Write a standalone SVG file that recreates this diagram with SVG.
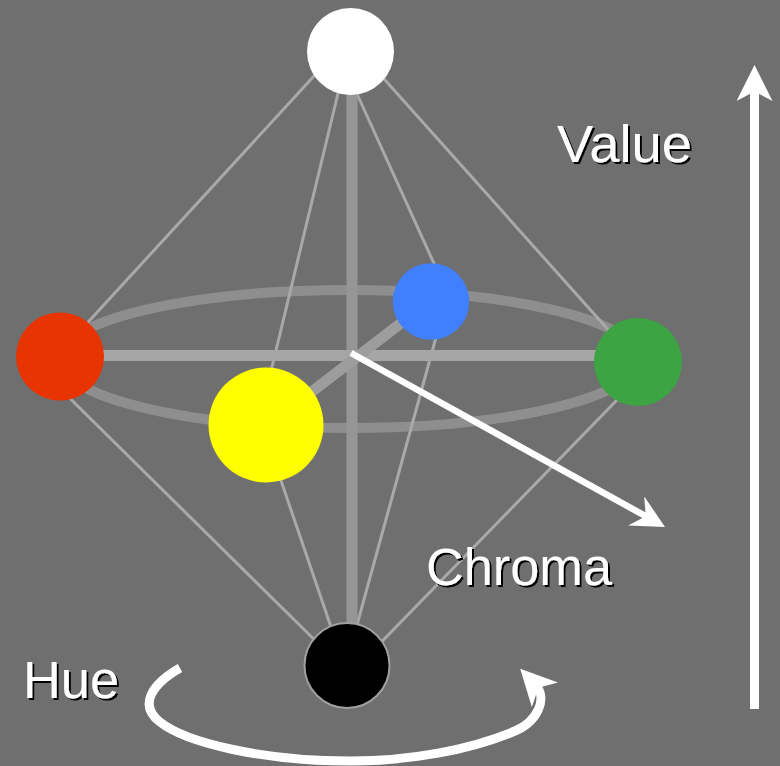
<svg xmlns="http://www.w3.org/2000/svg" width="780" height="766" viewBox="0 0 780 766">
  <style>
    .rib { fill: none; stroke: #a9a9a9; stroke-width: 3; }
    .ring { fill: none; stroke: #8e8e8e; stroke-width: 10; }
    .axis { stroke-width: 11; fill: none; }
    .arrow { fill: none; stroke: #ffffff; stroke-linecap: butt; }
    .label { font-family: "Liberation Sans", Arial, sans-serif; font-size: 51px; fill: #ffffff; filter: url(#shadow); }
  </style>
  <defs>
    <filter id="shadow" x="-10%" y="-20%" width="130%" height="150%">
      <feDropShadow dx="2" dy="2" stdDeviation="0.4" flood-color="#000000" flood-opacity="1"/>
    </filter>
    <marker id="head" viewBox="0 0 36 36" markerUnits="userSpaceOnUse" markerWidth="36" markerHeight="36" refX="14" refY="18" orient="auto">
      <path d="M0,0 L36,18 L0,36 L9.5,18 Z" fill="#ffffff"/>
    </marker>
    <marker id="headS" viewBox="0 0 33 33.2" markerUnits="userSpaceOnUse" markerWidth="33" markerHeight="33.2" refX="13" refY="16.6" orient="auto">
      <path d="M0,0 L33,16.6 L0,33.2 L11,16.6 Z" fill="#ffffff"/>
    </marker>
  </defs>

  <rect width="780" height="766" fill="#6f6f6f"/>

  <g id="connectors">
    <!-- hue circle -->
    <ellipse class="ring" cx="349" cy="359" rx="290" ry="69"/>
    <!-- edges from white pole -->
    <line class="rib" x1="336" y1="52" x2="57" y2="356"/>
    <line class="rib" x1="348" y1="52" x2="258" y2="425"/>
    <line class="rib" x1="338" y1="52" x2="451" y2="301"/>
    <line class="rib" x1="360" y1="52" x2="637" y2="362"/>
    <!-- edges from black pole -->
    <line class="rib" x1="27" y1="356" x2="340" y2="665"/>
    <line class="rib" x1="262" y1="425" x2="344" y2="665"/>
    <line class="rib" x1="446" y1="301" x2="346" y2="665"/>
    <line class="rib" x1="654" y1="362" x2="359" y2="665"/>
    <!-- value axis and chroma diameters -->
    <line class="axis" x1="352" y1="52" x2="352" y2="665" stroke="#969696" stroke-width="12"/>
    <line class="axis" x1="60" y1="355.5" x2="638" y2="355.5" stroke="#a6a6a6"/>
    <line class="axis" x1="266" y1="427" x2="431" y2="300" stroke="#9d9d9d" stroke-width="10"/>
  </g>

  <g id="node-white"><circle cx="350.5" cy="51.5" r="43.5" fill="#ffffff"/></g>
  <g id="node-red"><circle cx="60" cy="356.5" r="44" fill="#e83400"/></g>
  <g id="node-blue"><circle cx="431" cy="301.5" r="38.3" fill="#4080ff"/></g>
  <g id="node-green"><circle cx="638" cy="362" r="44" fill="#3ca442"/></g>
  <g id="node-yellow"><circle cx="266" cy="425" r="57.5" fill="#ffff00"/></g>
  <g id="node-black"><circle cx="347" cy="665.5" r="42.5" fill="#000000" stroke="#a0a0a0" stroke-width="2"/></g>

  <g id="arrows">
    <!-- chroma -->
    <line class="arrow" x1="351" y1="353" x2="647.5" y2="517.2" stroke-width="6.5" marker-end="url(#headS)"/>
    <!-- value -->
    <line class="arrow" x1="754.5" y1="709" x2="754.5" y2="87" stroke-width="9" marker-end="url(#head)"/>
    <!-- hue -->
    <path class="arrow" stroke-width="9" marker-end="url(#head)"
          d="M180,668 C152,684 138,705 160,722 C185,742 260,761 350,761 C410,761 470,750 515,731 C538,721 548,698 535.3,684.6"/>
  </g>

  <g id="labels">
    <text class="label" x="557" y="162" textLength="135" lengthAdjust="spacingAndGlyphs">Value</text>
    <text class="label" x="426" y="585" textLength="186" lengthAdjust="spacingAndGlyphs">Chroma</text>
    <text class="label" x="23" y="698" textLength="96" lengthAdjust="spacingAndGlyphs">Hue</text>
  </g>
</svg>
